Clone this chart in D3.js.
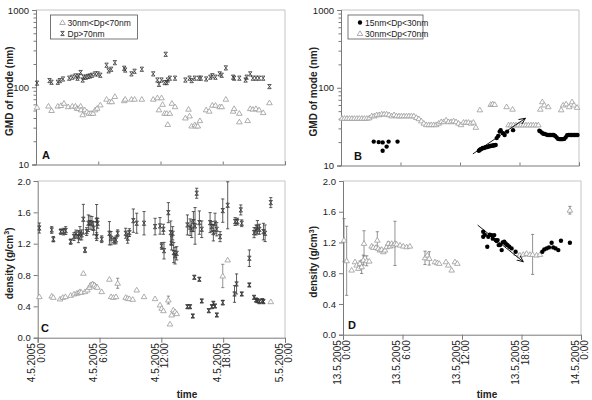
<!DOCTYPE html>
<html>
<head>
<meta charset="utf-8">
<script src="https://cdn.jsdelivr.net/npm/d3@7"></script>
<style>
	body { margin: 0; background: #fff; }
	svg { display: block; font-family: "Liberation Sans", Arial, sans-serif; }
</style>
</head>
<body>
<svg id="chart" width="592" height="400"></svg>
<script>
"use strict";

// ---- tick labels ----
var hourTicks = [0, 6, 12, 18, 24];
var timeLabels = ["0:00", "6:00", "12:00", "18:00", "0:00"];
var dayLabelsC = ["4.5.2005", "4.5.2005", "4.5.2005", "4.5.2005", "5.5.2005"];
var dayLabelsD = ["13.5.2005", "13.5.2005", "13.5.2005", "13.5.2005", "14.5.2005"];
var gmdTicks = [10, 100, 1000];
var gmdMinor = [20, 30, 40, 50, 60, 70, 80, 90, 200, 300, 400, 500, 600, 700, 800, 900];
var densTicks = [0, 0.4, 0.8, 1.2, 1.6, 2.0];

// ---- panel A: GMD, 4.5.2005 [hour, nm] ----
var aMid = [[0.1,55],[1.2,57],[1.5,50],[2.1,57],[2.4,58],[2.7,62],[3.1,56],[3.5,57],[3.8,57],[3.95,53.5],
	[4.1,53],[4.3,57],[4.35,51],[4.5,44],[4.7,51],[4.9,48],[5.1,46],[5.3,46],[5.5,46],[5.7,51],[5.9,53.5],
	[6.2,59],[6.8,70],[7.1,65],[7.3,65],[7.6,76],[8.5,67],[8.6,70],[9.2,70],[9.5,70],[10.2,70],[11.3,70],
	[11.7,73],[11.85,51],[12.1,73],[12.2,60],[12.4,46],[12.6,46],[12.7,33],[12.9,46],[13.1,62],[13.4,56],
	[14.4,40],[14.7,52],[14.8,42.5],[15.0,31.5],[15.3,32.8],[15.4,31.5],[15.6,31.5],[15.8,37],[16.4,51],
	[16.7,49],[17.0,58.5],[17.3,58.5],[17.7,56],[17.9,56],[18.3,70],[19.0,49],[19.1,53],[19.6,46],
	[19.6,35.6],[20.4,37],[20.65,53],[20.9,52],[21.2,53],[21.5,51],[21.9,47],[22.5,63]];
var aLarge = [[0.1,113],[1.3,122],[1.5,116],[2.1,116],[2.3,122],[2.6,128],[3.2,131],[3.5,135],[3.8,140],
	[4.0,131],[4.1,140],[4.3,155],[4.5,124],[4.6,135],[4.8,135],[5.0,138],[5.2,140],[5.4,143],[5.7,149],
	[5.95,149],[6.2,143],[6.8,193],[7.0,163],[7.25,171],[7.6,208],[8.5,176],[8.6,167],[9.2,149],[9.5,161],
	[10.2,171],[11.3,149],[11.7,124],[11.85,109],[12.1,124],[12.4,115],[12.5,267],[12.6,115],[12.7,124],
	[12.9,131],[13.4,131],[14.4,124],[14.8,131],[15.0,122],[15.3,131],[15.7,131],[15.9,131],[16.4,128],
	[16.8,135],[17.0,141],[17.3,135],[17.7,149],[17.9,143],[18.3,178],[19.0,135],[19.1,131],[19.6,131],
	[20.2,124],[20.3,135],[20.65,149],[20.9,131],[21.2,131],[21.5,131],[21.9,131],[22.5,102]];

// ---- panel B: GMD, 13.5.2005 [hour, nm] ----
var bSmall = [[3.3,20.3],[3.8,20],[4.2,19.8],[4.6,17.5],[4.2,15.5],[4.8,20.3],[5.7,20.3],
	[13.9,15.5],[14.0,16],[14.1,16.2],[14.2,16.5],[14.3,16.8],[14.4,16.8],[14.5,17],[14.6,17.2],[14.7,17.2],
	[14.8,17.5],[14.9,17.5],[15.0,17.8],[15.1,17.8],[15.2,18],[15.3,18],[15.4,18.2],[15.5,18.2],[15.6,18.4],
	[15.7,22.5],[15.85,24],[16.0,27.3],[16.1,28.5],[16.35,26],[16.5,24.7],[16.75,27.3],[17.35,28.5],
	[20.0,28],[20.1,27.5],[20.25,26.5],[20.4,25.6],[20.55,25.5],[20.7,25],[20.85,24.7],[21.0,24.7],
	[21.15,24.7],[21.3,24.7],[21.45,24.7],[21.6,24],[21.75,23],[21.9,22],[22.05,21.8],[22.2,21.8],
	[22.35,21.8],[22.5,22],[22.65,23],[22.8,24.5],[22.95,24.7],[23.1,24.7],[23.25,24.7],[23.4,24.7],
	[23.55,24.7],[23.7,24.7],[23.85,24.7]];
var bMid = [[0.1,40.5],[0.35,40.5],[0.6,40.5],[0.85,40.5],[1.1,40.5],[1.35,40.5],[1.6,40.5],[1.85,40.5],
	[2.1,40.5],[2.35,40.5],[2.6,40.5],[2.85,41],[3.1,43.5],[3.35,43.5],[3.6,45],[3.85,45],[4.1,46],[4.35,46],
	[4.6,46],[4.85,45],[5.1,43.5],[5.35,45],[5.6,43.5],[5.85,43.5],[6.1,43.5],[6.35,43.5],[6.6,43.5],
	[6.85,43.5],[7.1,43.5],[7.35,43.5],[7.6,41.5],[7.85,40],[8.1,37.5],[8.35,35],[8.6,33.5],[8.85,33.5],
	[9.1,33.5],[9.35,33.5],[9.6,33.5],[9.85,35],[10.1,36.6],[10.35,36.6],[10.6,38.5],[10.85,36.6],
	[11.1,36.6],[11.35,37.5],[11.6,36.6],[11.85,35],[12.1,33.5],[12.35,36],[12.6,36],[12.85,36],[13.1,35],
	[13.35,36],[13.6,31],[14.0,52],[15.1,61],[15.3,62],[15.5,61],[16.7,57],[17.3,53],
	[16.9,33.3],[17.15,33.3],[17.4,33.3],[17.65,33.3],[17.9,33.3],[18.15,33.3],[18.4,33.3],[18.65,33.3],
	[18.9,33.3],[19.15,33.3],[19.4,33.3],[19.65,33.3],[19.9,33.3],
	[20.1,53],[20.3,66],[20.5,60],[20.9,57],[22.2,52],[22.4,60],[22.7,62],[23.0,57],[23.3,66],[23.5,60],[23.8,56]];
var arrowB = [[13.3,14.1],[18.6,40.5]];

// ---- panel C: density, 4.5.2005 [hour, g/cm3, error] ----
var cLarge = [[0.16,1.40,0.064],[1.36,1.375,0.043],[1.52,1.257,0.034],[2.23,1.354,0.034],[2.49,1.354,0.043],
	[2.72,1.367,0.05],[3.2,1.226,0.034],[3.52,1.29,0.05],[3.72,1.324,0.05],[3.95,1.29,0.077],[4.1,1.333,0.085],
	[4.27,1.312,0.064],[4.43,1.512,0.19],[4.59,1.12,0.034],[4.75,1.354,0.05],[4.92,1.461,0.106],
	[5.08,1.469,0.085],[5.27,1.461,0.085],[5.43,1.397,0.085],[5.72,1.50,0.2],[5.72,1.29,0.05],
	[5.82,1.461,0.064],[6.21,1.257,0.043],[6.96,1.333,0.149],[7.12,1.27,0.085],[7.41,1.239,0.043],
	[7.6,1.248,0.05],[7.76,1.333,0.043],[8.54,1.333,0.064],[8.73,1.27,0.064],[8.9,1.341,0.05],
	[9.28,1.494,0.149],[9.61,1.461,0.128],[10.32,1.461,0.149],[11.39,1.418,0.106],[11.87,1.427,0.106],
	[12.03,1.171,0.043],[12.2,1.384,0.064],[12.26,1.111,0.106],[12.68,1.596,0.128],[12.91,1.341,0.149],
	[13.0,1.205,0.085],[13.1,1.333,0.085],[13.2,1.086,0.128],[13.33,1.047,0.106],[13.49,1.077,0.085],
	[14.53,1.439,0.128],[14.79,1.41,0.106],[14.95,1.384,0.106],[15.11,1.482,0.128],[15.27,1.427,0.234],
	[15.43,1.844,0.064],[15.69,1.469,0.149],[15.92,1.384,0.106],[16.73,1.469,0.128],[16.89,1.418,0.064],
	[17.05,1.341,0.106],[17.21,1.461,0.128],[17.38,1.384,0.085],[17.7,1.29,0.064],[17.96,1.622,0.149],
	[18.44,1.69,0.3],[19.16,1.482,0.05],[19.38,1.482,0.043],[19.71,1.631,0.064],[19.8,1.461,0.043],
	[20.54,1.014,0.106],[21.0,1.341,0.064],[21.19,1.375,0.064],[21.32,1.41,0.085],[21.52,1.384,0.064],
	[21.91,1.354,0.106],[22.07,1.333,0.106],[22.62,1.724,0.064],
	[14.53,0.396,0.02],[14.79,0.396,0.02],[15.05,0.277,0.02],[15.2,0.771,0.02],[15.69,0.746,0.02],
	[15.92,0.469,0.02],[16.6,0.345,0.02],[16.9,0.396,0.02],[17.05,0.439,0.02],[17.21,0.405,0.02],
	[17.38,0.29,0.02],[17.96,0.448,0.03],[19.1,0.558,0.106],[19.3,0.686,0.128],[19.8,0.558,0.02],
	[20.54,0.673,0.02],[21.0,0.515,0.02],[21.19,0.481,0.02],[21.32,0.473,0.02],[21.52,0.46,0.02],
	[21.8,0.473,0.02],[21.91,0.46,0.02]];
var cMid = [[0.16,0.524,0.01],[1.36,0.532,0.01],[1.52,0.515,0.01],[2.17,0.494,0.01],[2.43,0.515,0.01],
	[2.69,0.524,0.01],[3.2,0.541,0.01],[3.52,0.558,0.01],[3.78,0.567,0.01],[3.95,0.575,0.01],[4.1,0.588,0.01],
	[4.23,0.58,0.01],[4.43,0.822,0.01],[4.59,0.588,0.01],[4.82,0.609,0.01],[5.02,0.643,0.02],[5.14,0.673,0.02],
	[5.33,0.686,0.02],[5.5,0.673,0.02],[5.66,0.652,0.02],[5.79,0.643,0.01],[6.21,0.588,0.01],[6.96,0.746,0.01],
	[7.12,0.524,0.01],[7.35,0.515,0.01],[7.6,0.524,0.01],[7.76,0.695,0.064],[8.54,0.515,0.01],[8.73,0.503,0.01],
	[8.9,0.498,0.01],[9.22,0.49,0.01],[9.61,0.609,0.01],[10.32,0.524,0.01],[11.39,0.498,0.01],[11.87,0.418,0.01],
	[12.03,0.375,0.01],[12.2,0.345,0.01],[12.68,0.481,0.05],[12.84,0.175,0.01],[13.0,0.29,0.01],[13.16,0.354,0.01],
	[13.33,0.332,0.01],[13.49,0.307,0.01],[17.96,0.788,0.149],[18.44,0.992,0.01],[22.62,0.46,0.01]];

// ---- panel D: density, 13.5.2005 [hour, g/cm3, error] ----
var dMid = [[0.1,1.231,0.28],[0.37,0.962,0.45],[0.87,0.841,0.01],[1.21,0.949,0.01],[1.38,0.906,0.01],
	[1.55,0.863,0.02],[1.71,0.928,0.03],[1.88,0.884,0.087],[2.05,0.971,0.065],[2.12,1.188,0.165],
	[2.39,0.962,0.065],[2.65,0.958,0.01],[2.89,1.153,0.01],[3.06,1.136,0.01],[3.33,1.136,0.01],[3.46,1.23,0.11],
	[3.56,1.123,0.01],[3.73,1.101,0.01],[3.9,1.11,0.01],[4.07,1.079,0.01],[4.23,1.101,0.01],[4.4,1.144,0.02],
	[4.57,1.188,0.02],[4.74,1.153,0.01],[4.91,1.188,0.01],[5.07,1.166,0.01],[5.24,1.188,0.288],[5.41,1.179,0.01],
	[5.75,1.166,0.01],[6.08,1.153,0.01],[6.42,1.144,0.01],[6.75,1.153,0.01],[8.27,1.0,0.087],[8.5,1.036,0.01],
	[8.7,0.993,0.087],[9.27,0.949,0.01],[9.51,0.937,0.01],[9.71,0.928,0.01],[10.38,0.949,0.01],[10.62,0.906,0.01],
	[10.96,0.841,0.01],[11.29,0.949,0.01],[11.53,0.928,0.01],
	[17.51,1.058,0.01],[17.84,1.036,0.01],[18.18,1.045,0.01],[18.51,1.058,0.01],[18.85,1.045,0.01],
	[19.12,1.045,0.26],[19.52,1.036,0.01],[19.86,1.045,0.01],[22.88,1.62,0.05]];
var dSmall = [[14.14,1.34],[14.14,1.274],[14.3,1.3],[14.55,1.144],[14.65,1.274],[14.8,1.3],[14.99,1.296],
	[15.1,1.25],[15.25,1.296],[15.39,1.231],[15.5,1.22],[15.59,1.231],[15.7,1.166],[15.83,1.166],[16.0,1.101],
	[16.1,1.2],[16.26,1.209],[16.4,1.188],[16.5,1.17],[16.6,1.166],[16.77,1.144],[17.0,1.123],[17.4,1.079],
	[20.1,1.079],[20.3,1.11],[20.53,1.123],[20.77,1.136],[21.04,1.197],[21.2,1.136],[21.44,1.123],
	[21.71,1.101],[21.98,1.222],[22.88,1.196]];
var arrowD = [[13.58,1.426],[18.18,0.949]];

// legend entries
var legendA = ["30nm<Dp<70nm", "Dp>70nm"];
var legendB = ["15nm<Dp<30nm", "30nm<Dp<70nm"];

var svg = d3.select("#chart");

// marker shapes
var TRI = "M0,-2.7L2.8,2L-2.8,2Z";
var XMARK = "M-1.8,-2.1H1.8M-1.8,2.1H1.8M-1.6,-2.1L1.6,2.1M1.6,-2.1L-1.6,2.1";

svg.append("defs").append("marker")
	.attr("id", "head")
	.attr("viewBox", "0 0 10 10")
	.attr("refX", 9).attr("refY", 5)
	.attr("markerWidth", 8).attr("markerHeight", 8)
	.attr("orient", "auto")
	.append("path")
	.attr("d", "M0,1L9,5L0,9")
	.attr("fill", "none").attr("stroke", "#000").attr("stroke-width", 1.2);

// draws the frame and axes of one panel and returns its scales
function makePanel(p) {
	var g = svg.append("g");
	var x = d3.scaleLinear().domain([0, 24]).range([p.x0, p.x1]);
	var y = p.log ?
		d3.scaleLog().domain([10, 1000]).range([p.y1, p.y0]) :
		d3.scaleLinear().domain([0, 2]).range([p.y1, p.y0]);

	// light frame top / right
	g.append("path")
		.attr("d", "M" + p.x0 + "," + p.y0 + "H" + p.x1 + "V" + p.y1)
		.attr("fill", "none").attr("stroke", "#c4c4c4").attr("stroke-width", 1);

	var yAxis = d3.axisLeft(y).tickSizeOuter(0).tickSize(4);
	if (p.log) {
		yAxis.tickValues(gmdTicks).tickFormat(d3.format("d"));
		g.append("g").attr("transform", "translate(" + p.x0 + ",0)")
			.call(d3.axisLeft(y).tickValues(gmdMinor).tickSize(2.5).tickFormat(""))
			.call(styleAxis);
	} else {
		yAxis.tickValues(densTicks).tickFormat(d3.format(".1f"));
	}
	g.append("g").attr("transform", "translate(" + p.x0 + ",0)").call(yAxis).call(styleAxis);

	var xAxis = d3.axisBottom(x).tickValues(hourTicks).tickFormat("").tickSizeOuter(0)
		.tickSize(p.log ? -3 : 5);
	g.append("g").attr("transform", "translate(0," + p.y1 + ")").call(xAxis).call(styleAxis);

	// rotated two-line date labels
	if (p.days) {
		hourTicks.forEach(function(h, i) {
			var t = g.append("text")
				.attr("transform", "translate(" + x(h) + "," + (p.y1 + 5.5) + ") rotate(-90)")
				.attr("text-anchor", "end")
				.attr("font-size", 10).attr("fill", "#222");
			t.append("tspan").attr("x", 0).attr("y", -2.5).text(p.days[i]);
			t.append("tspan").attr("x", 0).attr("y", 7).text(timeLabels[i]);
		});
	}

	// axis title
	var title = g.append("text")
		.attr("transform", "translate(" + p.titleX + "," + ((p.y0 + p.y1) / 2 + 4) + ") rotate(-90)")
		.attr("text-anchor", "middle")
		.attr("font-size", 10).attr("font-weight", "bold").attr("fill", "#222");
	if (p.log) {
		title.text("GMD of mode (nm)");
	} else {
		title.append("tspan").text("density (g/cm");
		title.append("tspan").attr("dy", -3.5).attr("font-size", 7).text("3");
		title.append("tspan").attr("dy", 3.5).text(")");
	}

	// panel letter
	g.append("text")
		.attr("x", p.letterX).attr("y", p.y1 - 5.5)
		.attr("font-size", 11).attr("font-weight", "bold").attr("fill", "#111")
		.text(p.letter);

	return {g: g, x: x, y: y};
}

function styleAxis(sel) {
	sel.select(".domain").attr("stroke", "#7a7a7a");
	sel.selectAll(".tick line").attr("stroke", "#7a7a7a");
	sel.selectAll(".tick text").attr("font-size", 9.5).attr("fill", "#222")
		.attr("font-family", "Liberation Sans, Arial, sans-serif");
}

function errorBars(pn, data, colour) {
	var cap = 1.6;
	var bars = pn.g.append("g").attr("stroke", colour).attr("stroke-width", 0.8).attr("fill", "none");
	data.filter(function(d) { return d[2] > 0.015; }).forEach(function(d) {
		var xx = pn.x(d[0]);
		var top = pn.y(Math.min(d[1] + d[2], 2));
		var bot = pn.y(d[1] - d[2]);
		bars.append("path")
			.attr("d", "M" + xx + "," + top + "V" + bot +
				"M" + (xx - cap) + "," + top + "H" + (xx + cap) +
				"M" + (xx - cap) + "," + bot + "H" + (xx + cap));
	});
}

function points(pn, data, kind) {
	var sel = pn.g.append("g").selectAll("path").data(data).join("path")
		.attr("transform", function(d) { return "translate(" + pn.x(d[0]) + "," + pn.y(d[1]) + ")"; });
	styleMarker(sel, kind);
}

function styleMarker(sel, kind) {
	if (kind === "tri") {
		sel.attr("d", TRI).attr("fill", "#fff").attr("stroke", "#9a9a9a").attr("stroke-width", 0.8);
	} else if (kind === "x") {
		sel.attr("d", XMARK).attr("fill", "none").attr("stroke", "#333").attr("stroke-width", 0.8);
	} else {
		sel.attr("d", d3.symbol(d3.symbolCircle, 15)()).attr("fill", "#000");
	}
}

function arrow(pn, a) {
	pn.g.append("line")
		.attr("x1", pn.x(a[0][0])).attr("y1", pn.y(a[0][1]))
		.attr("x2", pn.x(a[1][0])).attr("y2", pn.y(a[1][1]))
		.attr("stroke", "#000").attr("stroke-width", 0.9)
		.attr("marker-end", "url(#head)");
}

function legend(x0, y0, w, labels, kinds) {
	var g = svg.append("g");
	g.append("rect").attr("x", x0).attr("y", y0).attr("width", w).attr("height", 24)
		.attr("fill", "#fff").attr("stroke", "#555").attr("stroke-width", 0.8);
	labels.forEach(function(lab, i) {
		var cy = y0 + 7.5 + i * 11;
		var m = g.append("path").attr("transform", "translate(" + (x0 + 12) + "," + cy + ")");
		styleMarker(m, kinds[i]);
		g.append("text").attr("x", x0 + 17).attr("y", cy + 3)
			.attr("font-size", 8.5).attr("fill", "#222").text(lab);
	});
}

// ---- build the four panels ----
var pA = makePanel({x0: 36, x1: 285, y0: 10, y1: 164.5, log: true, titleX: 13, letter: "A", letterX: 42});
var pB = makePanel({x0: 341, x1: 579, y0: 10, y1: 165.5, log: true, titleX: 317, letter: "B", letterX: 354});
var pC = makePanel({x0: 37.7, x1: 285, y0: 181, y1: 337.7, log: false, titleX: 12.5, letter: "C", letterX: 41,
	days: dayLabelsC});
var pD = makePanel({x0: 343, x1: 581, y0: 181, y1: 334.7, log: false, titleX: 317, letter: "D", letterX: 348,
	days: dayLabelsD});

points(pA, aMid, "tri");
points(pA, aLarge, "x");
legend(50.5, 15, 87, legendA, ["tri", "x"]);

points(pB, bMid, "tri");
points(pB, bSmall, "dot");
arrow(pB, arrowB);
legend(348, 15, 75, legendB, ["dot", "tri"]);

errorBars(pC, cMid, "#777");
errorBars(pC, cLarge, "#333");
points(pC, cMid, "tri");
points(pC, cLarge, "x");

errorBars(pD, dMid, "#777");
points(pD, dMid, "tri");
points(pD, dSmall, "dot");
arrow(pD, arrowD);

// x-axis titles
svg.append("text").attr("x", 187).attr("y", 398).attr("text-anchor", "middle")
	.attr("font-size", 10).attr("font-weight", "bold").attr("fill", "#222").text("time");
svg.append("text").attr("x", 487).attr("y", 398).attr("text-anchor", "middle")
	.attr("font-size", 10).attr("font-weight", "bold").attr("fill", "#222").text("time");
</script>
</body>
</html>
